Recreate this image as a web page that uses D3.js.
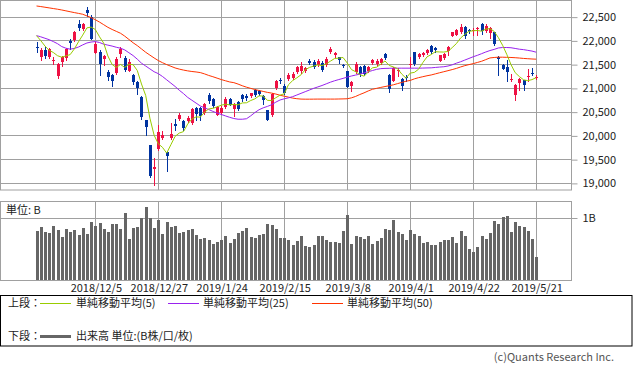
<!DOCTYPE html>
<html><head><meta charset="utf-8">
<script src="https://cdn.jsdelivr.net/npm/d3@7"></script>
<style>
body{margin:0;background:#fff;}
svg{display:block;font-family:"Noto Sans CJK JP","Noto Sans",sans-serif;}
</style></head><body>
<svg id="c" width="633" height="370"></svg>
<script>
const dates = ["2018/11/14","2018/11/15","2018/11/16","2018/11/19","2018/11/20","2018/11/21","2018/11/22","2018/11/26","2018/11/27","2018/11/28","2018/11/29","2018/11/30",
"2018/12/3","2018/12/4","2018/12/5","2018/12/6","2018/12/7","2018/12/10","2018/12/11","2018/12/12","2018/12/13","2018/12/14","2018/12/17","2018/12/18","2018/12/19","2018/12/20","2018/12/21","2018/12/25","2018/12/26","2018/12/27","2018/12/28",
"2019/1/4","2019/1/7","2019/1/8","2019/1/9","2019/1/10","2019/1/11","2019/1/15","2019/1/16","2019/1/17","2019/1/18","2019/1/21","2019/1/22","2019/1/23","2019/1/24","2019/1/25","2019/1/28","2019/1/29","2019/1/30","2019/1/31",
"2019/2/1","2019/2/4","2019/2/5","2019/2/6","2019/2/7","2019/2/8","2019/2/12","2019/2/13","2019/2/14","2019/2/15","2019/2/18","2019/2/19","2019/2/20","2019/2/21","2019/2/22","2019/2/25","2019/2/26","2019/2/27","2019/2/28",
"2019/3/1","2019/3/4","2019/3/5","2019/3/6","2019/3/7","2019/3/8","2019/3/11","2019/3/12","2019/3/13","2019/3/14","2019/3/15","2019/3/18","2019/3/19","2019/3/20","2019/3/22","2019/3/25","2019/3/26","2019/3/27","2019/3/28","2019/3/29",
"2019/4/1","2019/4/2","2019/4/3","2019/4/4","2019/4/5","2019/4/8","2019/4/9","2019/4/10","2019/4/11","2019/4/12","2019/4/15","2019/4/16","2019/4/17","2019/4/18","2019/4/19","2019/4/22","2019/4/23","2019/4/24","2019/4/25","2019/4/26",
"2019/5/7","2019/5/8","2019/5/9","2019/5/10","2019/5/13","2019/5/14","2019/5/15","2019/5/16","2019/5/17","2019/5/20","2019/5/21"];

const tickLabels = ["2018/12/5","2018/12/27","2019/1/24","2019/2/15","2019/3/8","2019/4/1","2019/4/22","2019/5/21"];
const priceTicks = [19000,19500,20000,20500,21000,21500,22000,22500];
const volumeTicks = [1];

const openP = [21860,21660,21800,21645,21560,21240,21555,21625,21985,22010,
22346,22234,22640,22500,21744,21765,21604,21330,21275,21310,
21716,21625,21360,21275,21114,20806,20316,19805,19302,19707,
19945,19658,19938,20232,20351,20295,20295,20260,20575,20570,
20470,20855,20771,20435,20470,20596,20764,20554,20701,20841,
20820,20820,20950,20930,20820,20526,20435,20995,21160,21045,
21185,21210,21325,21360,21345,21576,21555,21485,21520,21485,
21765,21690,21646,21480,21345,21030,21340,21450,21460,21345,
21520,21506,21520,21716,21275,21150,21360,21190,21230,21480,
21745,21650,21690,21730,21885,21830,21570,21625,21770,22100,
22120,22170,22276,22220,22195,22230,22346,22206,22150,22170,
21660,21485,21450,21170,20855,21100,21156,21225,21320,21200];

const highP = [21975,21835,21855,21850,21660,21520,21675,21850,22025,22200,
22430,22374,22700,22535,21975,21800,21695,21370,21296,21640,
21870,21675,21600,21296,21135,20820,20330,19805,19530,20225,
20085,19680,20260,20344,20462,20316,20414,20575,20596,20590,
20680,20890,20785,20610,20610,20810,20785,20690,20720,20876,
20869,20900,20980,20960,20850,20540,20890,21170,21215,21080,
21310,21330,21470,21555,21450,21610,21580,21600,21560,21640,
21870,21760,21660,21500,21360,21150,21540,21460,21480,21470,
21600,21600,21620,21735,21290,21445,21420,21205,21270,21640,
21760,21740,21760,21820,21900,21870,21700,21740,21890,22180,
22250,22340,22300,22250,22260,22280,22365,22340,22290,22180,
21680,21500,21590,21300,21090,21210,21170,21394,21420,21280];

const lowP = [21745,21590,21625,21630,21500,21205,21465,21590,21815,21995,
22220,22220,22510,22020,21730,21275,21485,21170,21044,21296,
21660,21345,21350,21086,20870,20350,20001,19117,18948,19700,
19925,19245,19925,20106,20330,20120,20281,20246,20330,20315,
20450,20680,20596,20420,20440,20580,20630,20400,20540,20715,
20750,20800,20830,20850,20665,20315,20415,20975,21100,20880,
21170,21190,21310,21310,21330,21510,21420,21470,21360,21460,
21730,21660,21520,21430,21010,20925,21320,21260,21270,21330,
21500,21480,21500,21600,20905,21135,21250,20960,21150,21440,
21480,21620,21680,21720,21740,21760,21560,21610,21700,22090,
22110,22150,22045,22160,22110,22120,22130,22180,22060,21900,
21270,21390,21155,21135,20736,20946,20950,21135,21280,21180];

const closeP = [21846,21800,21680,21820,21580,21506,21646,21814,21952,22177,
22262,22351,22575,22036,21919,21501,21678,21219,21148,21602,
21816,21374,21540,21115,20987,20392,20166,19155,19327,20077,
20014,19561,20038,20204,20427,20163,20359,20555,20442,20402,
20666,20719,20622,20593,20574,20773,20649,20664,20556,20773,
20788,20883,20844,20874,20751,20333,20864,21144,21139,20900,
21281,21302,21431,21464,21425,21528,21449,21556,21385,21602,
21822,21726,21596,21456,21025,21125,21503,21290,21287,21450,
21584,21566,21608,21627,20977,21428,21378,21033,21205,21509,
21505,21713,21724,21807,21761,21802,21687,21711,21870,22169,
22221,22277,22090,22200,22217,22259,22200,22307,22258,21923,
21602,21402,21344,21191,21067,21188,21062,21250,21301,21225];

const ma5 = [22100,21996,21882,21792,21745,21677,21646,21673,21700,21819,
21970,22111,22263,22280,22229,22076,21942,21671,21493,21430,
21493,21432,21496,21489,21366,21082,20840,20363,20005,19823,
19748,19627,19803,19979,20049,20079,20238,20342,20389,20384,
20485,20557,20570,20600,20635,20656,20642,20651,20643,20683,
20686,20733,20769,20832,20828,20737,20733,20793,20846,20876,
21066,21153,21211,21276,21381,21430,21459,21484,21469,21504,
21563,21618,21626,21640,21525,21386,21341,21280,21246,21331,
21423,21435,21499,21567,21472,21441,21404,21289,21204,21311,
21326,21393,21531,21652,21702,21761,21756,21754,21766,21848,
21932,22050,22125,22191,22201,22209,22193,22237,22248,22189,
22058,21898,21706,21492,21321,21238,21170,21152,21174,21215];

const ma25 = [22100,22075,22045,22015,21975,21930,21870,21835,21815,21830,
21860,21905,21945,21965,21975,21955,21920,21900,21880,21855,
21835,21800,21740,21680,21604,21520,21460,21400,21340,21300,
21240,21170,21100,21030,20950,20880,20800,20740,20680,20620,
20580,20545,20505,20470,20440,20410,20380,20355,20340,20340,
20350,20410,20480,20540,20580,20610,20645,20700,20745,20770,
20790,20815,20850,20885,20920,20955,20990,21020,21050,21085,
21120,21150,21175,21200,21226,21250,21270,21290,21315,21340,
21365,21390,21405,21410,21412,21415,21415,21415,21415,21415,
21415,21415,21417,21420,21422,21430,21438,21445,21460,21485,
21520,21550,21585,21620,21655,21685,21720,21755,21786,21810,
21840,21850,21850,21845,21830,21814,21805,21790,21775,21751];

const ma50 = [22724,22712,22698,22684,22670,22656,22640,22622,22603,22585,
22568,22550,22515,22480,22435,22385,22330,22275,22230,22190,
22150,22090,22020,21950,21890,21820,21750,21690,21630,21575,
21530,21490,21455,21420,21395,21375,21358,21345,21335,21322,
21295,21262,21235,21205,21175,21150,21125,21110,21080,21045,
21015,20990,20965,20945,20925,20905,20890,20870,20845,20825,
20805,20785,20772,20764,20762,20762,20763,20764,20764,20764,
20764,20764,20766,20768,20771,20790,20820,20860,20895,20935,
20970,20990,21010,21028,21045,21065,21090,21115,21140,21156,
21190,21215,21235,21255,21272,21295,21318,21340,21362,21385,
21410,21440,21468,21490,21510,21535,21560,21595,21630,21640,
21646,21646,21643,21640,21635,21628,21620,21614,21608,21604];

const volume = [0.78,0.85,0.77,0.75,0.86,0.80,0.69,0.82,0.77,0.80,
0.72,0.83,0.74,0.93,0.86,0.91,0.82,0.77,0.89,0.89,
0.82,1.07,0.66,0.83,0.85,1.00,1.16,0.99,0.83,0.96,
0.74,0.93,0.85,0.86,0.75,0.77,0.80,0.82,0.72,0.66,
0.67,0.64,0.58,0.61,0.64,0.70,0.59,0.66,0.75,0.78,
0.83,0.69,0.67,0.72,0.74,0.89,0.88,0.82,0.67,0.67,
0.64,0.56,0.62,0.70,0.55,0.53,0.57,0.70,0.70,0.64,
0.61,0.61,0.59,0.78,1.04,0.58,0.70,0.69,0.66,0.70,
0.58,0.62,0.67,0.81,0.80,0.96,0.77,0.74,0.64,0.80,
0.74,0.70,0.59,0.61,0.56,0.56,0.61,0.64,0.64,0.69,
0.59,0.78,0.70,0.50,0.45,0.53,0.70,0.66,0.75,0.94,
0.89,1.01,1.02,0.77,0.93,0.86,0.85,0.78,0.66,0.37];

const COL_UP = "#ee1144", COL_DN = "#0033a0";
const COL_MA5 = "#99cc00", COL_MA25 = "#9922ee", COL_MA50 = "#ff3300";
const GRID = "#a0a0a0";

const svg = d3.select("#c");
const PR = 571, PB = 190, VT = 201.5, VB = 280.5;
const x = d3.scaleLinear().domain([-8.7, 127.3]).range([0, PR]);
const y = d3.scaleLinear().domain([18850, 22850]).range([PB, 0]);
const yv = d3.scaleLinear().domain([0, 79/63]).range([VB, VT]);
const idx = d3.range(dates.length);
const px = i => Math.round(x(i));
const tickIdx = tickLabels.map(t => dates.indexOf(t));

svg.append("clipPath").attr("id","pclip").append("rect").attr("x",0).attr("y",0).attr("width",PR).attr("height",PB);

// price grid
const gP = svg.append("g");
gP.selectAll("line.h").data(priceTicks).join("line")
  .attr("x1",0).attr("x2",PR).attr("y1",d=>Math.round(y(d))+0.5).attr("y2",d=>Math.round(y(d))+0.5)
  .attr("stroke",GRID);
gP.selectAll("line.v").data(tickIdx).join("line")
  .attr("x1",d=>px(d)+0.5).attr("x2",d=>px(d)+0.5).attr("y1",0).attr("y2",PB)
  .attr("stroke",GRID);
gP.append("rect").attr("x",0.5).attr("y",0.5).attr("width",PR).attr("height",PB-0.5)
  .attr("fill","none").attr("stroke",GRID);

// volume grid
const gV = svg.append("g");
gV.selectAll("line.h").data(volumeTicks).join("line")
  .attr("x1",0).attr("x2",PR).attr("y1",d=>Math.round(yv(d))+0.5).attr("y2",d=>Math.round(yv(d))+0.5)
  .attr("stroke",GRID);
gV.selectAll("line.v").data(tickIdx).join("line")
  .attr("x1",d=>px(d)+0.5).attr("x2",d=>px(d)+0.5).attr("y1",VT).attr("y2",VB)
  .attr("stroke",GRID);
gV.append("rect").attr("x",0.5).attr("y",VT).attr("width",PR).attr("height",VB-VT)
  .attr("fill","none").attr("stroke",GRID);

// candles
const gC = svg.append("g").attr("clip-path","url(#pclip)");
const cand = gC.selectAll("g.c").data(idx).join("g").attr("shape-rendering","crispEdges");
cand.append("line")
  .attr("x1",i=>px(i)+0.5).attr("x2",i=>px(i)+0.5)
  .attr("y1",i=>Math.round(y(highP[i]))).attr("y2",i=>Math.round(y(lowP[i]))+1)
  .attr("stroke",i=>closeP[i]>=openP[i]?COL_UP:COL_DN);
cand.append("rect")
  .attr("x",i=>px(i)-1).attr("width",3)
  .attr("y",i=>Math.round(y(Math.max(openP[i],closeP[i]))))
  .attr("height",i=>Math.max(1,Math.round(y(Math.min(openP[i],closeP[i])))-Math.round(y(Math.max(openP[i],closeP[i])))))
  .attr("fill",i=>closeP[i]>=openP[i]?COL_UP:COL_DN);

// moving averages
const line = d3.line().x((d,i)=>x(i)).y(d=>y(d));
[[ma50,COL_MA50],[ma25,COL_MA25],[ma5,COL_MA5]].forEach(([arr,c])=>{
  gC.append("path").datum(arr).attr("d",line).attr("fill","none").attr("stroke",c).attr("stroke-width",1);
});

// volume bars
svg.append("g").attr("shape-rendering","crispEdges").selectAll("rect").data(idx).join("rect")
  .attr("x",i=>px(i)-1).attr("width",3)
  .attr("y",i=>Math.round(yv(volume[i])))
  .attr("height",i=>VB-0.5-Math.round(yv(volume[i])))
  .attr("fill","#666");

// axes
const axP = svg.append("g").attr("transform",`translate(${PR+0.5},0.5)`)
  .call(d3.axisRight(y).tickValues(priceTicks).tickFormat(d3.format(",")).tickSize(6).tickPadding(5));
const axV = svg.append("g").attr("transform",`translate(${PR+0.5},0.5)`)
  .call(d3.axisRight(yv).tickValues(volumeTicks).tickFormat(()=>"1B").tickSize(6).tickPadding(5));
const axX = svg.append("g").attr("transform",`translate(0.5,${VB})`)
  .call(d3.axisBottom(x).tickValues(tickIdx).tickFormat(i=>dates[i]).tickSize(0).tickPadding(4));
[axP,axV,axX].forEach(a=>{
  a.select(".domain").remove();
  a.selectAll(".tick line").attr("stroke",GRID);
  a.selectAll("text").attr("font-size",11).attr("fill","#222").attr("font-family",'"Noto Sans CJK JP",sans-serif');
});

svg.append("text").attr("x",6).attr("y",210).attr("dy","0.35em").attr("font-size",11).attr("fill","#222").text("単位: B");

// legend
const lg = svg.append("g");
lg.append("rect").attr("x",0.5).attr("y",295.5).attr("width",631.5).attr("height",50.5).attr("fill","none").attr("stroke","#000");
const items = [
  {lx:40, tx:76, c:COL_MA5, w:1, t:"単純移動平均(5)", yy:303.5},
  {lx:168, tx:203, c:COL_MA25, w:1, t:"単純移動平均(25)", yy:303.5},
  {lx:312, tx:347, c:COL_MA50, w:1, t:"単純移動平均(50)", yy:303.5},
  {lx:40, tx:76, c:"#666", w:3, t:"出来高 単位:(B株/口/枚)", yy:336.5}
];
lg.append("text").attr("x",8).attr("y",303.5).attr("dy","0.35em").attr("font-size",11).attr("fill","#222").text("上段：");
lg.append("text").attr("x",8).attr("y",336.5).attr("dy","0.35em").attr("font-size",11).attr("fill","#222").text("下段：");
items.forEach(it=>{
  lg.append("line").attr("x1",it.lx).attr("x2",it.lx+31).attr("y1",it.yy).attr("y2",it.yy).attr("stroke",it.c).attr("stroke-width",it.w);
  lg.append("text").attr("x",it.tx).attr("y",it.yy).attr("dy","0.35em").attr("font-size",11).attr("fill","#222").text(it.t);
});
svg.append("text").attr("x",614).attr("y",357.5).attr("dy","0.35em").attr("text-anchor","end").attr("font-size",11).attr("fill","#555").text("(c)Quants Research Inc.");
</script>
</body></html>
